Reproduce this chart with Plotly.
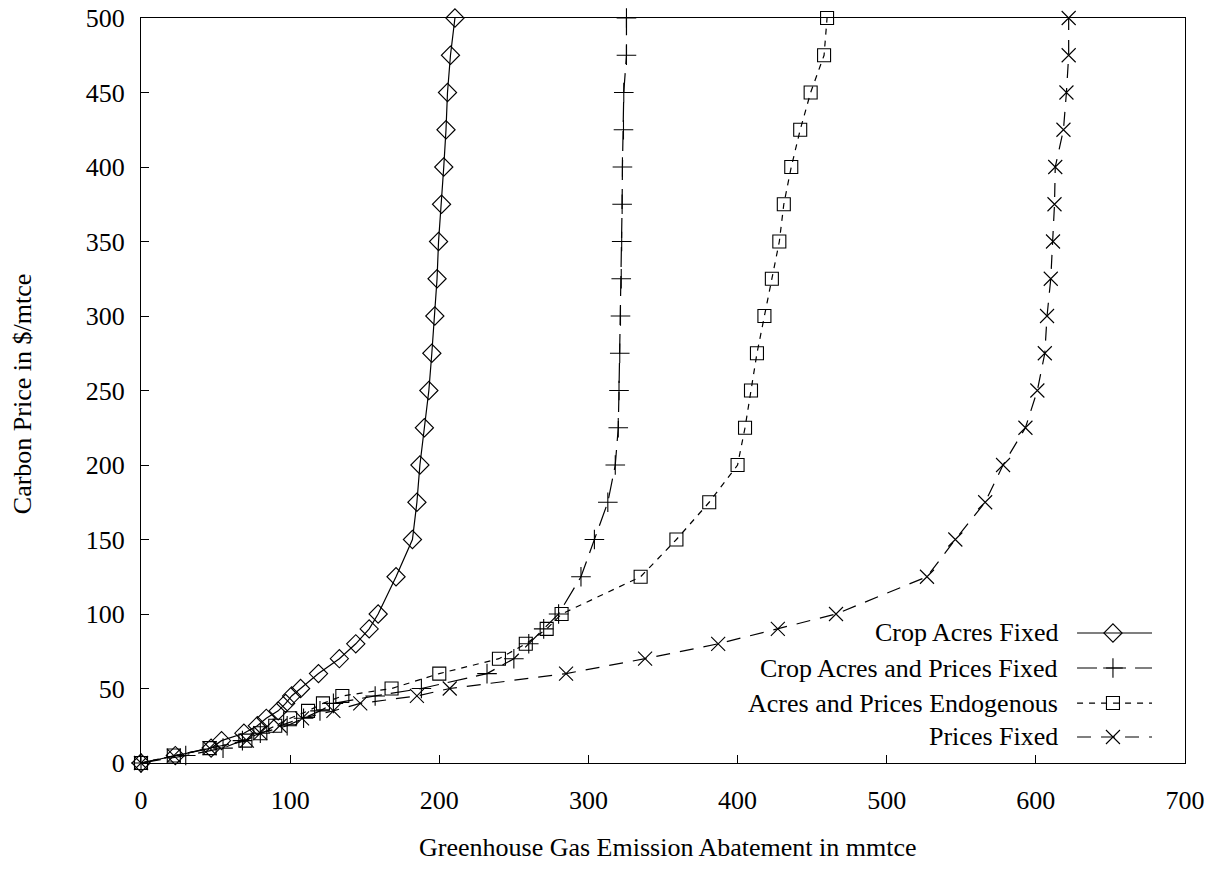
import plotly.graph_objects as go

# ---------------- data ----------------
names = ["Crop Acres Fixed", "Crop Acres and Prices Fixed",
         "Acres and Prices Endogenous", "Prices Fixed"]

price = [0, 5, 10, 15, 20, 25, 30, 35, 40, 45, 50, 60, 70, 80, 90, 100,
         125, 150, 175, 200, 225, 250, 275, 300, 325, 350, 375, 400, 425,
         450, 475, 500]

crop_acres_fixed = [0, 23, 47, 54, 69, 78, 84, 92, 97, 101, 107, 119, 133, 144,
                    153, 159, 171, 182, 185, 187, 190, 193, 195, 197, 198.5,
                    199.5, 201.5, 203, 204.5, 205.5, 207.5, 210.5]

crop_acres_prices_fixed = [0, 30, 55, 68, 80, 98, 109, 120, 129, 157, 188, 232,
                           250, 260, 270, 280, 295, 304, 313, 318, 320, 320.5,
                           321, 321.5, 322, 322.3, 322.6, 322.8, 323.5, 323.7,
                           325.5, 325.5]

acres_prices_endog = [0, 22, 46, 70, 80, 90, 100, 112, 122, 135, 168, 200, 240,
                      258, 272, 282, 335, 359, 381, 400, 405, 409, 413, 418,
                      423, 428, 431, 436, 442, 449, 458, 460]

prices_fixed = [0, 22, 46, 71, 80, 93, 108, 129, 147, 185, 207, 285, 338, 387,
                427, 466, 527, 546, 566, 578, 593, 601, 606, 607.5, 610, 611.5,
                612.5, 613, 618.5, 620.5, 622, 622]

x_ticks = [0, 100, 200, 300, 400, 500, 600, 700]
y_ticks = [0, 50, 100, 150, 200, 250, 300, 350, 400, 450, 500]

series_x = [crop_acres_fixed, crop_acres_prices_fixed, acres_prices_endog, prices_fixed]

# ---------------- styles ----------------
FONT = "Liberation Serif, Times New Roman, serif"
FS = 26
dashes = ["solid", "20px,9px", "6px,6px", "14px,10px"]
symbols = ["diamond-open", "cross-thin-open", "square-open", "x-thin-open"]
msizes = [14, 14, 13, 14]

fig = go.Figure()
for i in range(4):
    fig.add_trace(go.Scatter(
        x=series_x[i], y=price, mode="lines+markers", name=names[i],
        line=dict(color="black", width=1.2, dash=dashes[i]),
        marker=dict(symbol=symbols[i], size=msizes[i], color="black",
                    line=dict(color="black", width=1.1)),
        cliponaxis=False, showlegend=False))

# custom legend (text left of sample, as in reference)
leg_rows = [0.1745, 0.1275, 0.0805, 0.0349]
leg_text_x = 0.880
leg_line = [0.8966, 0.9684]
leg_mark = 0.931
for i in range(4):
    fig.add_annotation(x=leg_text_x, y=leg_rows[i], xref="paper", yref="paper",
                       text=names[i], showarrow=False, xanchor="right",
                       yanchor="middle", font=dict(family=FONT, size=FS, color="black"))
    fig.add_trace(go.Scatter(
        x=leg_line, y=[leg_rows[i]] * 2, xaxis="x2", yaxis="y2", mode="lines",
        line=dict(color="black", width=1.2, dash=dashes[i]),
        showlegend=False, hoverinfo="skip", cliponaxis=False))
    fig.add_trace(go.Scatter(
        x=[leg_mark], y=[leg_rows[i]], xaxis="x2", yaxis="y2", mode="markers",
        marker=dict(symbol=symbols[i], size=msizes[i], color="black",
                    line=dict(color="black", width=1.1)),
        showlegend=False, hoverinfo="skip", cliponaxis=False))

# axis titles
fig.add_annotation(x=0.505, y=-0.113, xref="paper", yref="paper",
                   text="Greenhouse Gas Emission Abatement in mmtce",
                   showarrow=False, xanchor="center", yanchor="middle",
                   font=dict(family=FONT, size=FS, color="black"))
fig.add_annotation(x=-0.114, y=0.495, xref="paper", yref="paper",
                   text="Carbon Price in $/mtce", textangle=-90,
                   showarrow=False, xanchor="center", yanchor="middle",
                   font=dict(family=FONT, size=FS, color="black"))

axis_common = dict(showgrid=False, zeroline=False, showline=True,
                   linecolor="black", linewidth=1.2, mirror=True,
                   ticks="inside", ticklen=8, tickwidth=1, tickcolor="black",
                   automargin=False, ticklabeloverflow="allow",
                   tickfont=dict(family=FONT, size=FS, color="black"))

fig.update_layout(
    width=1218, height=869,
    margin=dict(l=133, r=41, t=10, b=114, autoexpand=False),
    paper_bgcolor="white", plot_bgcolor="white",
    font=dict(family=FONT, size=FS, color="black"),
    xaxis=dict(range=[0, 700], tickvals=x_ticks, ticklabelstandoff=14, **axis_common),
    yaxis=dict(range=[0, 500], tickvals=y_ticks, ticklabelstandoff=10, **axis_common),
    xaxis2=dict(range=[0, 1], overlaying="x", visible=False, fixedrange=True),
    yaxis2=dict(range=[0, 1], overlaying="y", visible=False, fixedrange=True),
    showlegend=False,
)

fig.write_html("out.html")
